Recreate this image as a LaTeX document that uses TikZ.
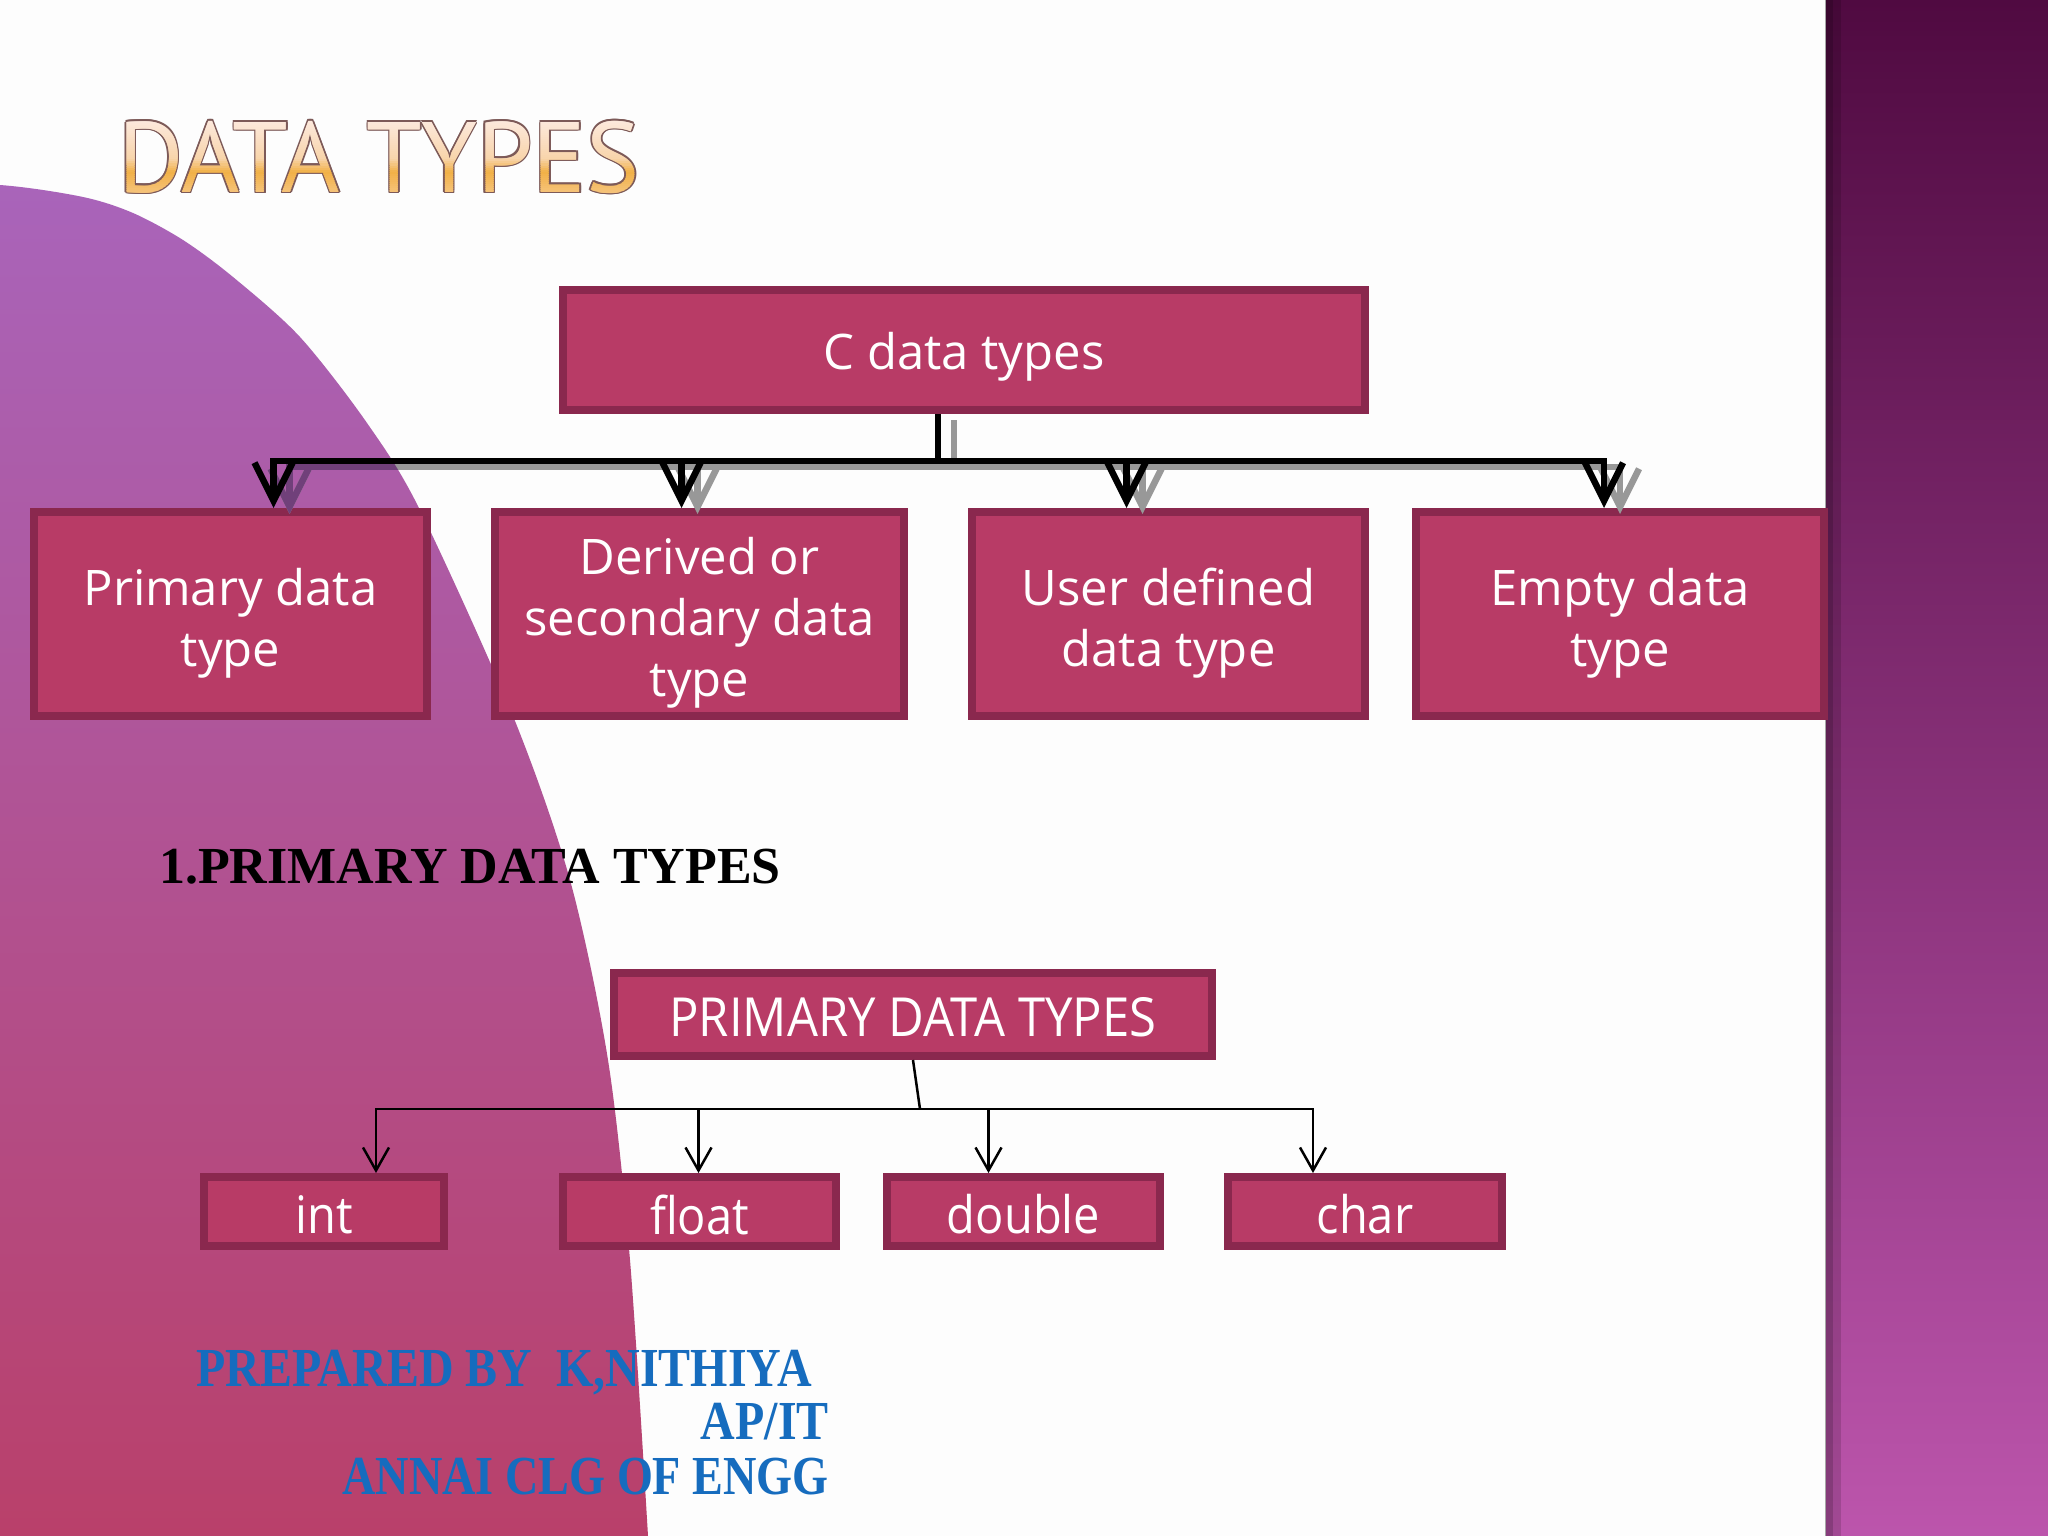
\documentclass[tikz,border=0pt]{standalone}
\usepackage{fontspec}
\setmainfont{Open Sans}
\newfontfamily\serifb{Liberation Serif}
\newfontfamily\titlef{PT Sans}
\usetikzlibrary{arrows.meta,calc}

\definecolor{pagebg}{RGB}{253,253,253}
\definecolor{boxfill}{RGB}{184,59,102}
\definecolor{boxline}{RGB}{138,40,78}
\definecolor{blobtop}{RGB}{169,100,186}
\definecolor{blobmid}{RGB}{176,82,150}
\definecolor{blobbot}{RGB}{185,64,106}
\definecolor{striptop}{RGB}{80,10,65}
\definecolor{stripmid}{RGB}{138,58,122}
\definecolor{stripbot}{RGB}{188,85,172}
\definecolor{shadowgray}{RGB}{152,152,152}
\definecolor{shadowpurple}{RGB}{112,64,122}
\definecolor{authorblue}{RGB}{22,108,190}
\definecolor{titleline}{RGB}{125,90,88}
\definecolor{ttop}{RGB}{253,236,228}
\definecolor{tlight}{RGB}{248,212,170}
\definecolor{torange}{RGB}{241,176,70}
\definecolor{tbot}{RGB}{246,198,130}

\newcommand{\titlesize}{\titlef\fontsize{100}{110}\selectfont}

\tikzset{
  box/.style={draw=boxline, fill=boxfill, line width=8pt, inner sep=0pt},
  boxtext/.style={text=white, align=center, inner sep=0pt},
  lvone/.style={line width=6.5pt, draw=black, -{Straight Barb[length=38pt,width=38pt]}},
  lvtwo/.style={line width=2.5pt, draw=black, -{Straight Barb[length=23pt,width=26pt]}},
  lvtwoplain/.style={line width=2.5pt, draw=black},
  titlenode/.style={inner sep=0pt, anchor=base west, font=\titlesize},
  onefont/.style={font=\fontsize{49}{61}\selectfont},
  twofont/.style={font=\fontsize{47}{56}\selectfont},
  pdtfont/.style={font=\fontsize{49}{56}\selectfont},
  authorfont/.style={font=\serifb\bfseries\fontsize{44}{50}\selectfont, text=authorblue, inner sep=0pt, anchor=base east},
}

\begin{document}
\begin{tikzpicture}[x=1pt,y=-1pt]
\useasboundingbox (0,0) rectangle (2048,1536);
\fill[pagebg] (0,0) rectangle (2048,1536);

% left blob
\begin{scope}
\clip (0,0) rectangle (2048,1536);
\shade[top color=blobtop, middle color=blobmid, bottom color=blobbot]
  plot[smooth] coordinates {(-120,182) (0,185) (83,197) (133,213) (183,240) (233,277) (300,337) (367,423) (420,510) (513,716) (570,880) (608,1060) (630,1260) (648,1536)}
  -- (-120,1536) -- cycle;
\end{scope}

% right strip
\shade[top color=striptop, middle color=stripmid, bottom color=stripbot] (1826,0) rectangle (2048,1536);
\fill[black, opacity=0.28] (1826,0) rectangle (1833,1536);
\fill[black, opacity=0.14] (1833,0) rectangle (1841,1536);
\draw[gray!70, line width=1pt] (1825.5,0) -- (1825.5,1536);

% title: outline, then banded gradient fill
\foreach \dx/\dy [count=\k] in {-1.6/0, 1.6/0, 0/-1.6, 0/1.6, -1.1/-1.1, 1.1/1.1, -1.1/1.1, 1.1/-1.1} {
  \node[titlenode, text=titleline] (tout\k) at (118+\dx,192+\dy) {DATA TYPES};
}
\foreach \i in {0,...,39} {
  \pgfmathsetmacro{\t}{(\i+0.5)/40}
  \pgfmathsetmacro{\ya}{116+2*\i}
  \pgfmathsetmacro{\yb}{\ya+2.4}
  \ifdim\t pt<0.55pt
    \pgfmathsetmacro{\p}{100*(1-\t/0.55)}\colorlet{bandc}{ttop!\p!tlight}
  \else\ifdim\t pt<0.7pt
    \pgfmathsetmacro{\p}{100*(1-(\t-0.55)/0.15)}\colorlet{bandc}{tlight!\p!torange}
  \else
    \pgfmathsetmacro{\p}{100*(1-(\t-0.7)/0.3)}\colorlet{bandc}{torange!\p!tbot}
  \fi\fi
  \begin{scope}
    \clip (100,\ya) rectangle (700,\yb);
    \node[titlenode, text=bandc] (tband\i) at (118,192) {DATA TYPES};
  \end{scope}
}

% level 1 boxes
\node[box, minimum width=802pt, minimum height=120pt] (cdt) at (964,350) {};
\node[box, minimum width=393pt, minimum height=204pt] (prim) at (230.5,614) {};
\node[box, minimum width=409pt, minimum height=204pt] (deriv) at (699.5,614) {};
\node[box, minimum width=393pt, minimum height=204pt] (user) at (1168.5,614) {};
\node[box, minimum width=408pt, minimum height=204pt] (nempty) at (1620,614) {};
\node[boxtext, onefont] (cdtt) at ([yshift=-7pt]cdt.center) {C data types};
\node[boxtext, onefont] (primt) at ([yshift=-9pt]prim.center) {Primary data\\type};
\node[boxtext, onefont] (derivt) at ([yshift=-9pt]deriv.center) {Derived or\\secondary data\\type};
\node[boxtext, onefont] (usert) at ([yshift=-9pt]user.center) {User defined\\data type};
\node[boxtext, onefont] (nemptyt) at ([yshift=-9pt]nempty.center) {Empty data\\type};

% level 1 connectors: shadow (grey on white, darker over the blob), then black
\coordinate (bar) at (0,461);
\begin{scope}[transform canvas={shift={(16pt,-6pt)}}]
\foreach \n/\s in {prim/43, deriv/-18, user/-42, nempty/-16} {
  \draw[lvone, draw=shadowgray] ([xshift=-26pt]cdt.south) -- ([xshift=-26pt]cdt.south |- bar) -| ([xshift=\s pt]\n.north);
}
\end{scope}
\begin{scope}
\clip plot[smooth] coordinates {(-120,182) (0,185) (83,197) (133,213) (183,240) (233,277) (300,337) (367,423) (420,510) (513,716) (570,880) (608,1060) (630,1260) (648,1536)} -- (-120,1536) -- cycle;
\begin{scope}[transform canvas={shift={(16pt,-6pt)}}]
\foreach \n/\s in {prim/43} {
  \draw[lvone, draw=shadowpurple] ([xshift=-26pt]cdt.south) -- ([xshift=-26pt]cdt.south |- bar) -| ([xshift=\s pt]\n.north);
}
\end{scope}
\end{scope}
\foreach \n/\s in {prim/43, deriv/-18, user/-42, nempty/-16} {
  \draw[lvone] ([xshift=-26pt]cdt.south) -- ([xshift=-26pt]cdt.south |- bar) -| ([xshift=\s pt]\n.north);
}

% heading
\node[inner sep=0pt, anchor=base west, font=\serifb\bfseries\fontsize{52}{58}\selectfont] (head) at (159,883) {1.PRIMARY DATA TYPES};

% level 2 boxes
\node[box, minimum width=598pt, minimum height=83pt] (pdt) at (913,1014.5) {};
\node[box, minimum width=240pt, minimum height=69pt] (nint) at (324,1211.5) {};
\node[box, minimum width=273pt, minimum height=69pt] (nfloat) at (699.5,1211.5) {};
\node[box, minimum width=273pt, minimum height=69pt] (ndouble) at (1023.5,1211.5) {};
\node[box, minimum width=274pt, minimum height=69pt] (nchar) at (1365,1211.5) {};
\node[boxtext, pdtfont] (pdtt) at ([yshift=-3pt]pdt.center) {\scalebox{1}[1.1]{PRIMARY DATA TYPES}};
\node[boxtext, twofont] (nintt) at ([yshift=-3pt]nint.center) {\scalebox{1}[1.1]{int}};
\node[boxtext, twofont] (nfloatt) at ([yshift=-3pt]nfloat.center) {\scalebox{1}[1.1]{float}};
\node[boxtext, twofont] (ndoublet) at ([yshift=-3pt]ndouble.center) {\scalebox{1}[1.1]{double}};
\node[boxtext, twofont] (nchart) at ([yshift=-3pt]nchar.center) {\scalebox{1}[1.1]{char}};

% level 2 connectors
\coordinate (j2) at (920,1109);
\draw[lvtwoplain] (pdt.south) -- (j2);
\foreach \n/\s in {nint/52, nfloat/-1, ndouble/-35, nchar/-52} {
  \draw[lvtwo] (j2) -| ([xshift=\s pt]\n.north);
}

% author
\node[authorfont] (a1) at (812,1386) {\scalebox{1.09}[1.25]{PREPARED BY\ \ K,NITHIYA}};
\node[authorfont] (a2) at (829,1439) {\scalebox{1.09}[1.25]{AP/IT}};
\node[authorfont] (a3) at (829,1494) {\scalebox{1.05}[1.25]{ANNAI CLG OF ENGG}};
\end{tikzpicture}
\end{document}
